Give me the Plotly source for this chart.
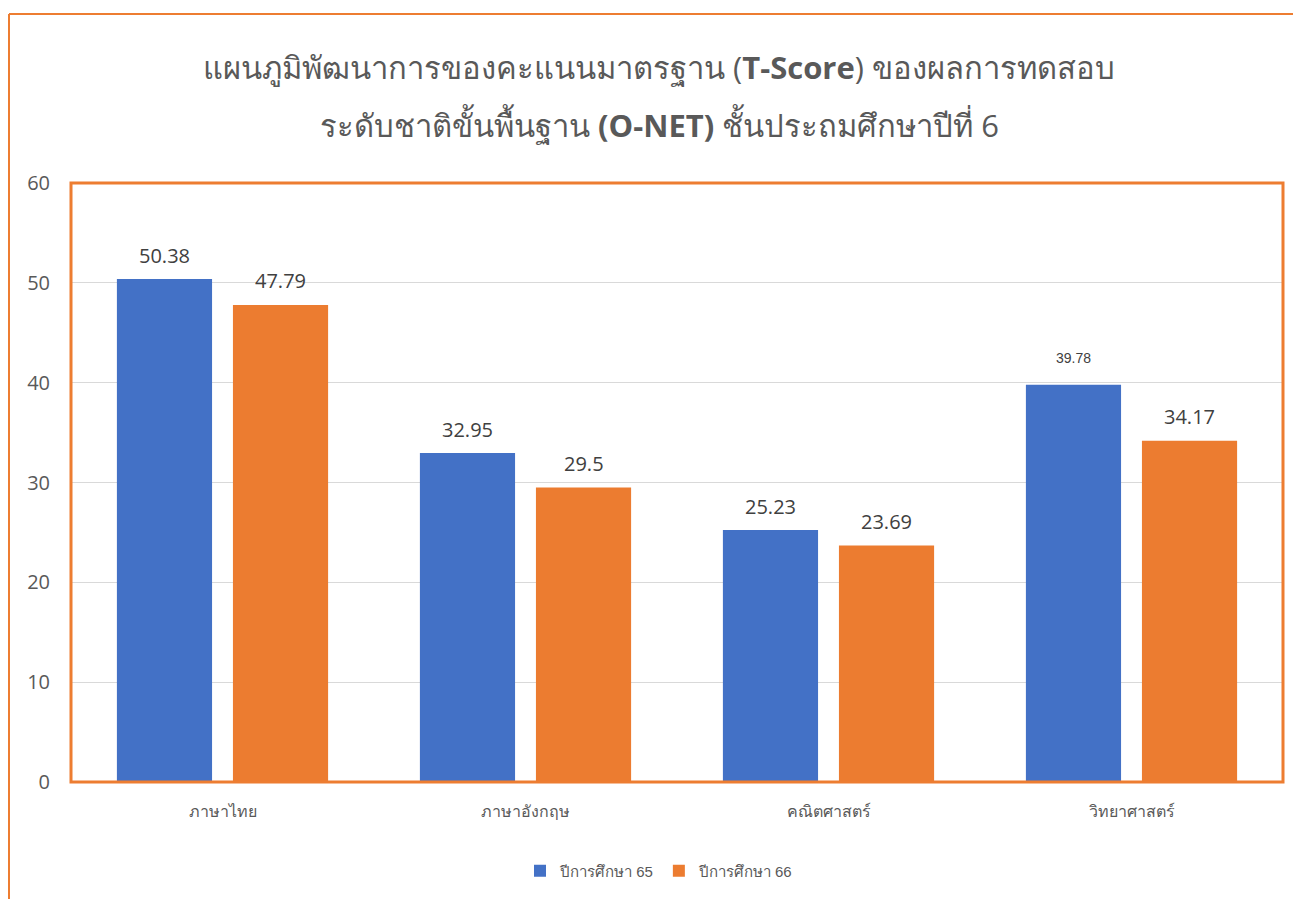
import plotly.graph_objects as go

categories = ["ภาษาไทย", "ภาษาอังกฤษ", "คณิตศาสตร์", "วิทยาศาสตร์"]
year65 = [50.38, 32.95, 25.23, 39.78]
year66 = [47.79, 29.5, 23.69, 34.17]
series_names = ["ปีการศึกษา 65", "ปีการศึกษา 66"]
label65 = ["50.38", "32.95", "25.23", "39.78"]
label66 = ["47.79", "29.5", "23.69", "34.17"]
title_lines = [
    "แผนภูมิพัฒนาการของคะแนนมาตรฐาน (<b>T-Score</b>) ของผลการทดสอบ",
    "ระดับชาติขั้นพื้นฐาน <b>(O-NET)</b> ชั้นประถมศึกษาปีที่ 6",
]

ORANGE = "#ED7D31"
GRAY = "#595959"
LBL = "#404040"

# figure geometry (page has an 8px body margin)
W, H = 1293, 891
L, T = 63, 175
PW, PH = 1212, 599
R, B = W - L - PW, H - T - PH
CENTER_X = (651 - L) / PW

fig = go.Figure()
fig.add_trace(go.Bar(
    x=categories, y=year65, name=series_names[0],
    marker=dict(color="#4371C6", line=dict(width=0)),
))
fig.add_trace(go.Bar(
    x=categories, y=year66, name=series_names[1],
    marker=dict(color="#EC7C30", line=dict(width=0)),
))

annotations = []
for i, cat in enumerate(categories):
    small = label65[i] == "39.78"
    annotations.append(dict(
        x=cat, y=year65[i], xref="x", yref="y", text=label65[i], showarrow=False,
        xshift=-58, yshift=27 if small else 24, yanchor="middle",
        font=dict(size=14 if small else 20, color=LBL,
                  family="Liberation Sans" if small else "Open Sans"),
    ))
    annotations.append(dict(
        x=cat, y=year66[i], xref="x", yref="y", text=label66[i], showarrow=False,
        xshift=58, yshift=24, yanchor="middle",
        font=dict(size=20, color=LBL, family="Open Sans"),
    ))

title_y = [1 + (T - 59) / PH, 1 + (T - 117) / PH]
for txt, yy in zip(title_lines, title_y):
    annotations.append(dict(
        x=CENTER_X, y=yy, xref="paper", yref="paper", text=txt, showarrow=False,
        xanchor="center", yanchor="middle",
        font=dict(size=31, color=GRAY, family="Open Sans, Noto Sans, sans-serif"),
    ))

fig.update_layout(
    width=W, height=H,
    margin=dict(l=L, r=R, t=T, b=B),
    paper_bgcolor="white", plot_bgcolor="white",
    barmode="group", bargap=0.234, bargroupgap=0.18,
    font=dict(family="Open Sans, Noto Sans, sans-serif", color=GRAY),
    showlegend=True,
    legend=dict(orientation="h", x=CENTER_X, xanchor="center",
                y=-(871 - 782) / PH, yanchor="middle",
                font=dict(size=15, color=GRAY, family="Liberation Sans, sans-serif"),
                traceorder="normal"),
    xaxis=dict(showgrid=False, showline=False, ticks="",
               tickfont=dict(size=16, color=GRAY, family="Liberation Sans, sans-serif"),
               ticklabelstandoff=18),
    yaxis=dict(range=[0, 60], dtick=10, showgrid=True, gridcolor="#D9D9D9",
               gridwidth=1, zeroline=False, showline=False,
               tickfont=dict(size=20, color=GRAY), ticklabelstandoff=20),
    annotations=annotations,
    shapes=[
        # plot area frame
        dict(type="rect", xref="paper", yref="paper", x0=0, x1=1, y0=0, y1=1,
             line=dict(color=ORANGE, width=3), fillcolor="rgba(0,0,0,0)", layer="above"),
        # outer chart frame (left and top edges)
        dict(type="line", xref="paper", yref="paper",
             x0=(1 - L) / PW, x1=(1 - L) / PW,
             y0=-(B + 20) / PH, y1=1 + (T - 6) / PH,
             line=dict(color=ORANGE, width=2)),
        dict(type="line", xref="paper", yref="paper",
             x0=(1 - L) / PW, x1=1.05,
             y0=1 + (T - 6) / PH, y1=1 + (T - 6) / PH,
             line=dict(color=ORANGE, width=2)),
    ],
)

fig.write_html("out.html")
